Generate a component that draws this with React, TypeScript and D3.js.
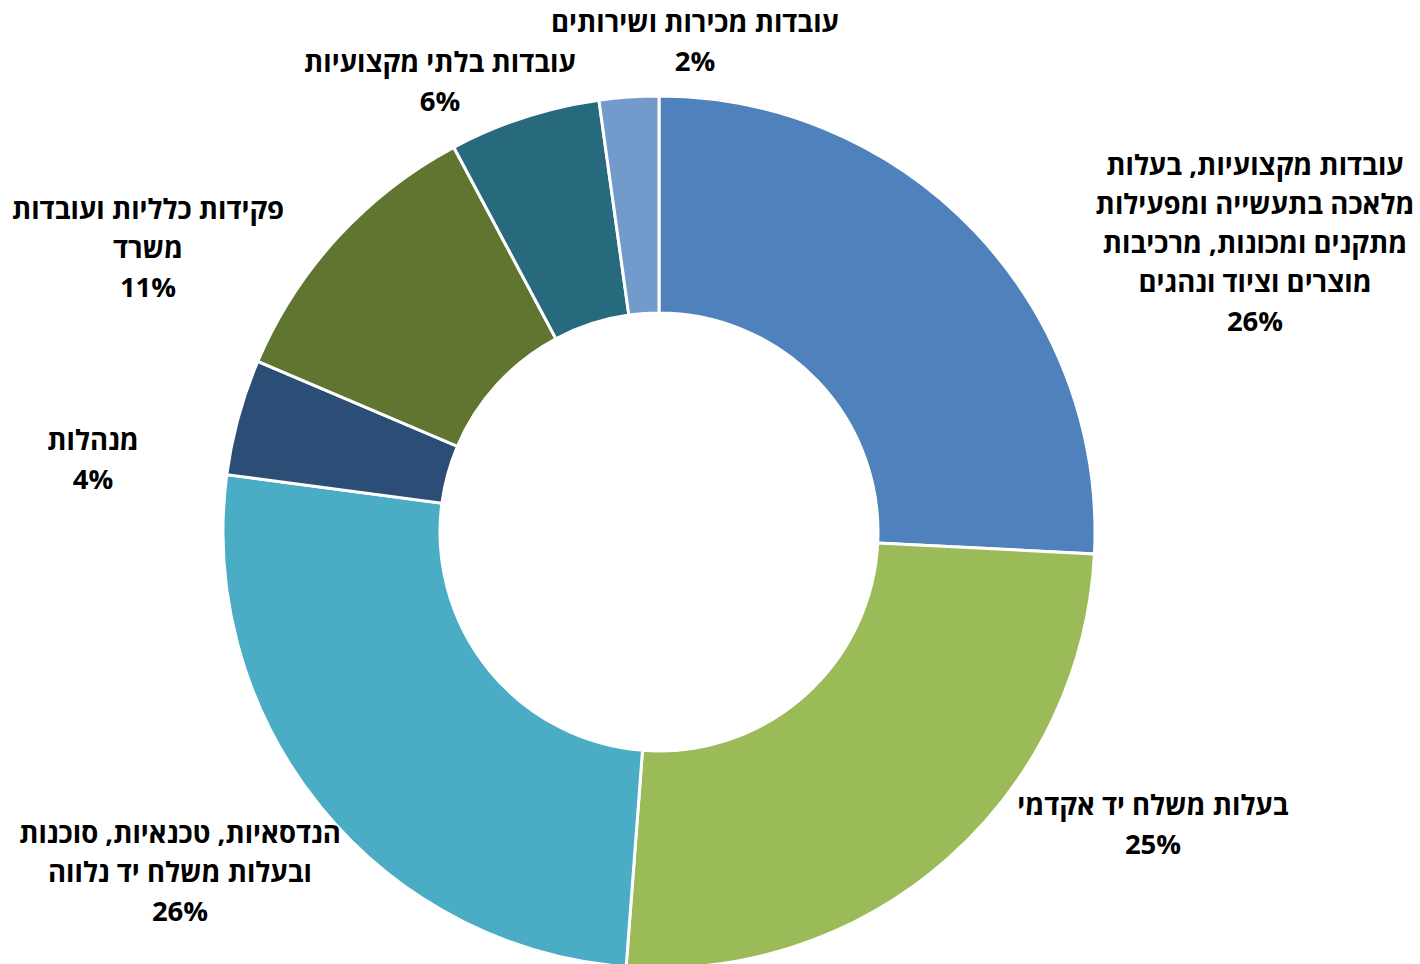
import React from "react";
import * as d3 from "d3";

const categories: string[][] = [
  ["עובדות מקצועיות, בעלות", "מלאכה בתעשייה ומפעילות", "מתקנים ומכונות, מרכיבות", "מוצרים וציוד ונהגים"],
  ["בעלות משלח יד אקדמי"],
  ["הנדסאיות, טכנאיות, סוכנות", "ובעלות משלח יד נלווה"],
  ["מנהלות"],
  ["פקידות כלליות ועובדות", "משרד"],
  ["עובדות בלתי מקצועיות"],
  ["עובדות מכירות ושירותים"],
];
const values: number[] = [25.8, 25.4, 25.9, 4.3, 10.8, 5.6, 2.2];
const colors: string[] = ["#4F81BD", "#9BBB59", "#4BACC6", "#2C4D75", "#5F7530", "#276A7D", "#729ACA"];

// label block centres (layout)
const labelCenters: [number, number][] = [
  [1255, 243],
  [1153, 825],
  [180, 872],
  [93, 460],
  [148, 248],
  [440, 82],
  [695, 42],
];

const W = 1420;
const H = 964;
const cx = 659;
const cy = 532;
const outerR = 436;
const innerR = 219;
const lineH = 39;
const fontSize = 27.5;

export default function App() {
  const total = d3.sum(values);
  const pie = d3.pie<number>().sort(null).value((d) => d);
  const arcs = pie(values);
  const arc = d3.arc<d3.PieArcDatum<number>>().innerRadius(innerR).outerRadius(outerR);
  return (
    <svg width={W} height={H} style={{ position: "absolute", left: 0, top: 0, background: "#fff" }}>
      <g transform={`translate(${cx},${cy})`}>
        {arcs.map((a, i) => (
          <path key={i} d={arc(a) || ""} fill={colors[i]} stroke="#fff" strokeWidth={3} strokeLinejoin="miter" />
        ))}
      </g>
      {categories.map((lines, i) => {
        const all = [...lines, `${Math.round((values[i] / total) * 100)}%`];
        const [lx, ly] = labelCenters[i];
        const y0 = ly - ((all.length - 1) * lineH) / 2;
        return (
          <text
            key={i}
            textAnchor="middle"
            direction="rtl"
            fontFamily="'Open Sans', 'DejaVu Sans', sans-serif"
            fontWeight="bold"
            fontSize={fontSize}
            fill="#000"
          >
            {all.map((t, j) => (
              <tspan key={j} x={lx} y={y0 + j * lineH} dy="0.35em">
                {t}
              </tspan>
            ))}
          </text>
        );
      })}
    </svg>
  );
}
